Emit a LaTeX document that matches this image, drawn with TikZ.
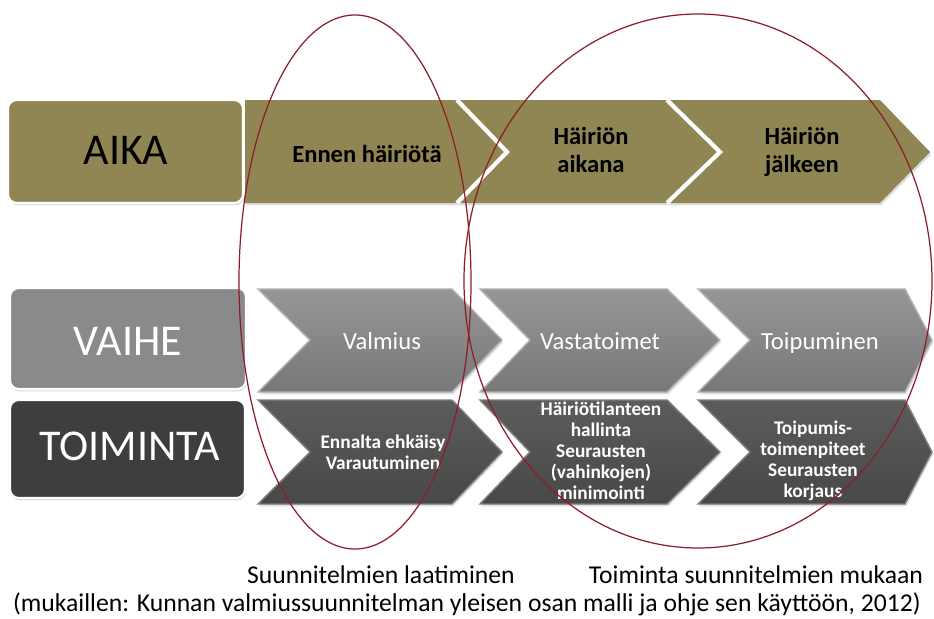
\documentclass[tikz,border=0pt]{standalone}
\usepackage{fontspec}
\setmainfont{Carlito}
\usetikzlibrary{shadows}
\definecolor{aikaolive}{RGB}{143,134,83}
\definecolor{vaihegray}{RGB}{138,138,138}
\definecolor{toimdark}{RGB}{62,62,62}
\definecolor{ringred}{RGB}{140,30,42}

\begin{document}
\begin{tikzpicture}[x=0.02cm, y=-0.02cm,
    softshadow/.style={drop shadow={opacity=0.25, shadow xshift=0.6pt, shadow yshift=-1.4pt}},
    rowbox/.style={rounded corners=5, draw=white, line width=1.2pt, softshadow},
    sepline/.style={white, line width=2.4pt, line join=miter},
    phasechev/.style={top color={rgb,255:red,150;green,150;blue,150}, bottom color={rgb,255:red,120;green,120;blue,120},
        draw={rgb,255:red,178;green,178;blue,178}, line width=0.8pt, softshadow},
    actchev/.style={top color={rgb,255:red,92;green,92;blue,92}, bottom color={rgb,255:red,72;green,72;blue,72},
        draw={rgb,255:red,125;green,125;blue,125}, line width=0.8pt, softshadow},
    ring/.style={ringred, line width=0.7pt},
    rowtitle/.style={inner sep=0, text height=15.8pt, text depth=0pt, font=\fontsize{25}{30}\selectfont},
    timetext/.style={inner sep=0, align=center, font=\bfseries\fontsize{14}{16}\selectfont},
    phasetext/.style={inner sep=0, text height=9pt, text depth=0pt, text=white, font=\fontsize{14}{16}\selectfont},
    acttext/.style={inner sep=0, align=center, text=white, font=\bfseries\fontsize{11}{12}\selectfont},
    notetext/.style={inner sep=0, font=\fontsize{14.6}{17}\selectfont}]
    \useasboundingbox (0,0) rectangle (934,619);
    \fill[white] (0,0) rectangle (934,619);

    % AIKA
    \filldraw[rowbox, fill=aikaolive] (8,100) rectangle (243,203);
    \fill[aikaolive, softshadow] (245,100) -- (880,100) -- (930,152) -- (880,203) -- (245,203) -- cycle;
    \draw[sepline] (457,100) -- (507,152) -- (457,203);
    \draw[sepline] (667,100) -- (720,152) -- (667,203);
    \node[rowtitle] (aika) at (126,151) {AIKA};
    \node[timetext] (ennen) at (367,154) {Ennen häiriötä};
    \node[timetext, anchor=north] (aikana) at (591,127) {Häiriön\\aikana};
    \node[timetext, anchor=north] (jalkeen) at (802,127) {Häiriön\\jälkeen};

    % VAIHE, TOIMINTA
    \filldraw[rowbox, fill=vaihegray] (10,288) rectangle (246,389);
    \filldraw[rowbox, fill=toimdark] (10,400) rectangle (245,498);
    \foreach \l/\n/\r/\t in {258/310/452/502, 480/530/667/720, 698/750/905/932} {
        \draw[phasechev] (\l,289) -- (\r,289) -- (\t,340) -- (\r,392) -- (\l,392) -- (\n,340) -- cycle;
        \draw[actchev] (\l,400) -- (\r,400) -- (\t,452) -- (\r,504) -- (\l,504) -- (\n,452) -- cycle;
    }
    \node[rowtitle, text=white] (vaihe) at (128,342) {VAIHE};
    \node[rowtitle, text=white] (toiminta) at (130,447) {TOIMINTA};
    \node[phasetext] (valmius) at (382,342) {Valmius};
    \node[phasetext] (vastatoimet) at (600,342) {Vastatoimet};
    \node[phasetext] (toipuminen) at (820,342) {Toipuminen};
    \node[acttext] (ennalta) at (383,452) {Ennalta ehkäisy\\Varautuminen};
    \node[acttext] (hallinta) at (601,451) {Häiriötilanteen\\hallinta\\Seurausten\\(vahinkojen)\\minimointi};
    \node[acttext] (korjaus) at (813,461) {Toipumis-\\toimenpiteet\\Seurausten\\korjaus};

    % rings
    \draw[ring] (355,282) ellipse [x radius=116, y radius=267];
    \draw[ring] (698,281) ellipse [x radius=234, y radius=267];

    \node[notetext] (laatiminen) at (381,575) {Suunnitelmien laatiminen};
    \node[notetext] (mukaan) at (756,575) {Toiminta suunnitelmien mukaan};
    \node[notetext] (lahde) at (467,604) {(mukaillen: Kunnan valmiussuunnitelman yleisen osan malli ja ohje sen käyttöön, 2012)};
\end{tikzpicture}
\end{document}
